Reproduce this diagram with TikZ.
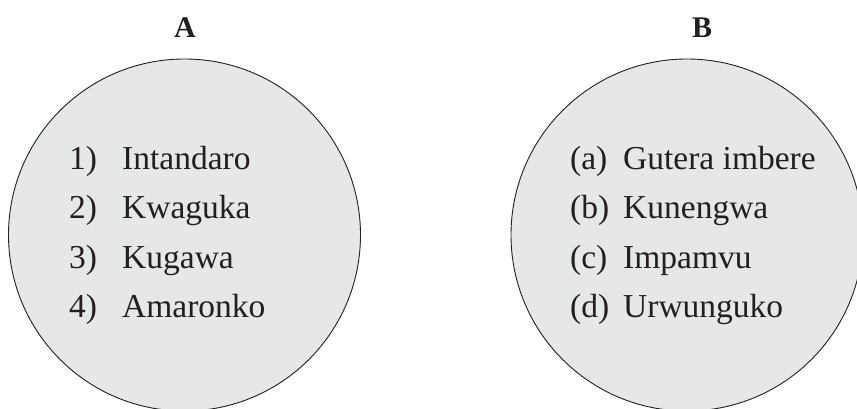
\documentclass[tikz,border=0pt]{standalone}
\usepackage{fontspec}
\setmainfont{Liberation Serif}
\definecolor{circfill}{HTML}{E6E7E8}
\definecolor{inkc}{HTML}{231F20}
\begin{document}
\begin{tikzpicture}[x=1pt,y=-1pt,
  bubble/.style={circle,draw=inkc,line width=0.9pt,fill=circfill,minimum size=352pt,inner sep=0pt},
  head/.style={font=\fontsize{30}{30}\selectfont\bfseries,text=inkc,inner sep=0pt},
  item/.style={font=\fontsize{33.5}{33.5}\selectfont,text=inkc,inner sep=0pt,anchor=base west}]
\useasboundingbox (0,0) rectangle (857,409);
\node[bubble] (ca) at (184.5,235) {};
\node[bubble] (cb) at (687,235) {};
\node[head] (ha) at (185,28) {A};
\node[head] (hb) at (702,28) {B};
% list A
\node[item] (a1n) at (69,169) {1)};
\node[item] (a1) at (122,169) {Intandaro};
\node[item] (a2n) at (69,218.5) {2)};
\node[item] (a2) at (122,218.5) {Kwaguka};
\node[item] (a3n) at (69,268) {3)};
\node[item] (a3) at (122,268) {Kugawa};
\node[item] (a4n) at (69,317) {4)};
\node[item] (a4) at (122,317) {Amaronko};
% list B
\node[item] (b1n) at (570,169) {(a)};
\node[item] (b1) at (623,169) {Gutera imbere};
\node[item] (b2n) at (570,218.5) {(b)};
\node[item] (b2) at (623,218.5) {Kunengwa};
\node[item] (b3n) at (570,268) {(c)};
\node[item] (b3) at (623,268) {Impamvu};
\node[item] (b4n) at (570,317) {(d)};
\node[item] (b4) at (623,317) {Urwunguko};
\end{tikzpicture}
\end{document}
